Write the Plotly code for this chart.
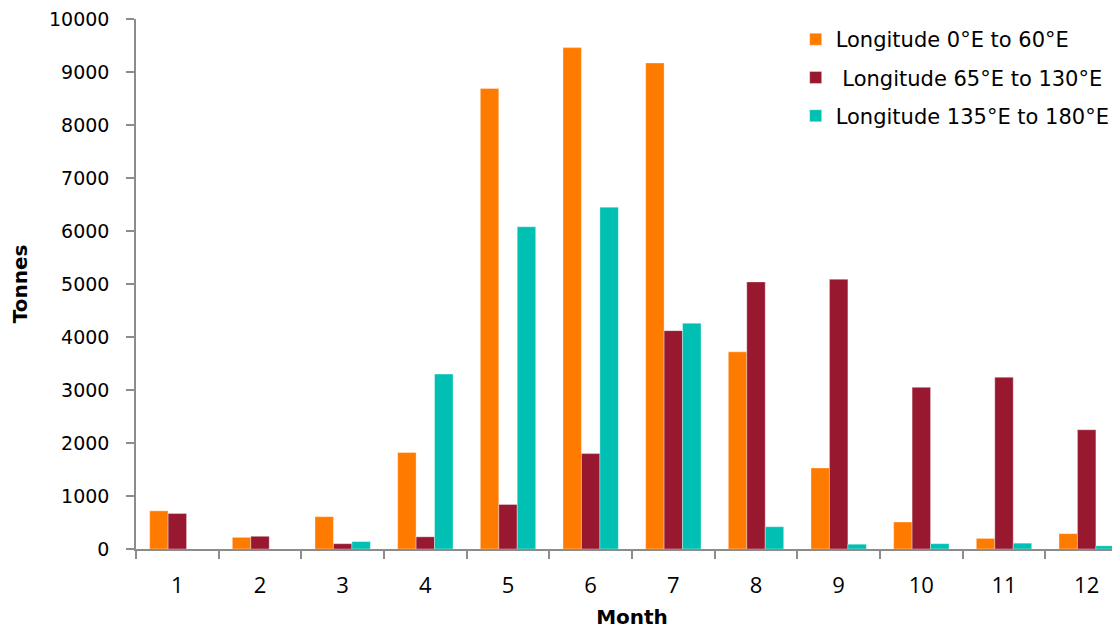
import plotly.graph_objects as go

months = list(range(1, 13))
month_labels = [str(m) for m in months]
series_names = ["Longitude 0°E to 60°E", "\u00a0Longitude 65°E to 130°E", "Longitude 135°E to 180°E"]
lon_0_60 = [720, 220, 610, 1820, 8690, 9460, 9170, 3720, 1530, 510, 200, 290]
lon_65_130 = [670, 240, 100, 230, 840, 1800, 4120, 5040, 5090, 3050, 3240, 2250]
lon_135_180 = [0, 0, 140, 3300, 6080, 6450, 4260, 420, 90, 100, 110, 60]
colors = ["#FF7B00", "#981830", "#00BFB3"]
y_ticks = list(range(0, 10001, 1000))
y_tick_text = [str(v) for v in y_ticks]

fig = go.Figure()
for i, (name, vals) in enumerate(zip(series_names, [lon_0_60, lon_65_130, lon_135_180])):
    fig.add_trace(go.Bar(
        x=months, y=vals, name=name, legendgroup=f"g{i}",
        marker=dict(color=colors[i], line=dict(width=0.6, color="rgba(255,255,255,0.6)")),
    ))

fig.update_layout(
    width=1120, height=630,
    margin=dict(l=128, r=0, t=11, b=89, autoexpand=False),
    paper_bgcolor="white", plot_bgcolor="white",
    barmode="group", bargap=0.33, bargroupgap=0,
    font=dict(family="DejaVu Sans", color="#000"),
    legend=dict(
        x=0.665, y=1.0, xanchor="left", yanchor="top",
        font=dict(family="DejaVu Sans", size=21, color="#000"),
        traceorder="grouped", tracegroupgap=8,
        itemwidth=30, bgcolor="rgba(0,0,0,0)",
    ),
    showlegend=True,
)
fig.update_xaxes(
    range=[0.5, 12.5], automargin=False,
    tickmode="array", tickvals=months, ticktext=month_labels,
    ticks="", showline=True, linecolor="#8c8c8c", linewidth=1.5,
    tickfont=dict(family="Open Sans", size=22, color="#000"),
    ticklabelstandoff=16, ticklabeloverflow="allow",
    minor=dict(tickmode="array", tickvals=[m + 0.5 for m in range(0, 13)],
               ticks="outside", ticklen=8, tickcolor="#8c8c8c", tickwidth=1.5, showgrid=False),
    showgrid=False, zeroline=False,
    title=dict(text="<b>Month</b>", font=dict(family="DejaVu Sans", size=20, color="#000"), standoff=12),
)
fig.update_yaxes(
    range=[0, 10000], automargin=False,
    tickmode="array", tickvals=y_ticks, ticktext=y_tick_text,
    ticks="outside", ticklen=8, tickcolor="#8c8c8c", tickwidth=1.5,
    showline=True, linecolor="#8c8c8c", linewidth=1.5,
    tickfont=dict(family="DejaVu Sans", size=19, color="#000"),
    ticklabelstandoff=13, ticklabeloverflow="allow",
    showgrid=False, zeroline=False,
    title=dict(text="<b>Tonnes</b>", font=dict(family="DejaVu Sans", size=20, color="#000"), standoff=16),
)

fig.write_html("out.html")
